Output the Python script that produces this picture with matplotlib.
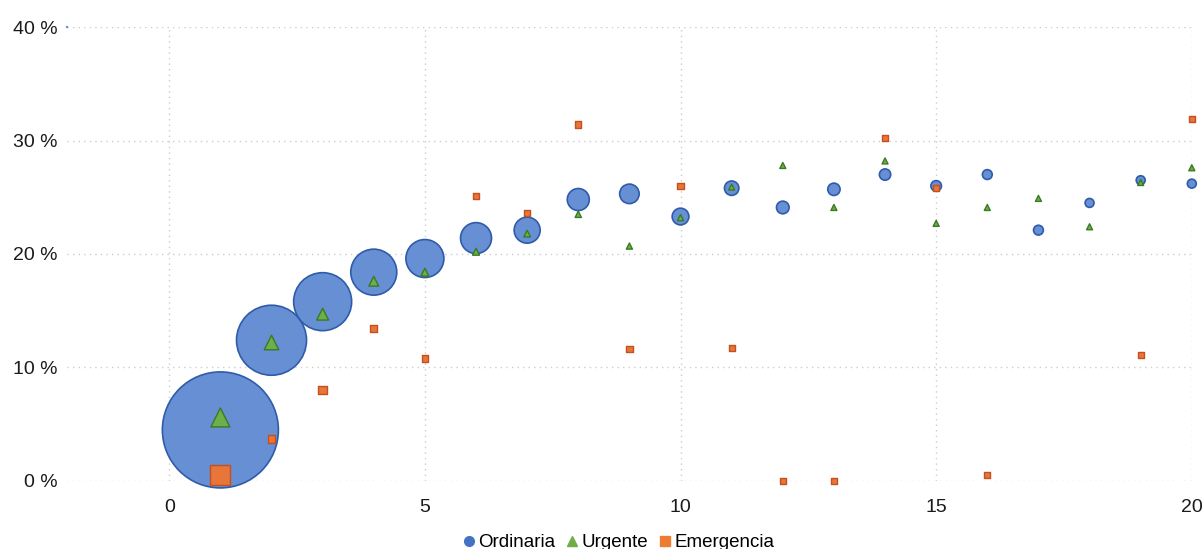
import matplotlib.pyplot as plt
import numpy as np
from matplotlib.lines import Line2D
from matplotlib.ticker import FuncFormatter, MultipleLocator

plt.rcParams['font.family'] = ['Liberation Sans', 'DejaVu Sans']

# data
x = np.arange(1, 21)
ordinaria = [4.5, 12.4, 15.8, 18.4, 19.6, 21.4, 22.1, 24.8, 25.3, 23.3,
             25.8, 24.1, 25.7, 27.0, 26.0, 27.0, 22.1, 24.5, 26.5, 26.2]
urgente = [5.6, 12.2, 14.7, 17.6, 18.4, 20.2, 21.8, 23.5, 20.7, 23.2,
           25.9, 27.8, 24.1, 28.2, 22.7, 24.1, 24.9, 22.4, 26.3, 27.6]
emergencia = [0.5, 3.7, 8.0, 13.4, 10.8, 25.1, 23.6, 31.4, 11.6, 26.0,
              11.7, 0.0, 0.0, 30.2, 25.8, 0.5, np.nan, np.nan, 11.1, 31.9]

# bubble sizes (relative)
n_ordinaria = [3364, 1225, 841, 529, 361, 240, 169, 121, 95, 70,
               52, 40, 38, 32, 28, 24, 24, 20, 20, 20]
n_urgente = [361, 210, 140, 95, 62, 48, 44, 40, 38, 38,
             36, 36, 36, 36, 36, 36, 36, 36, 36, 36]
n_emergencia = [400, 60, 70, 50, 45, 40, 40, 40, 40, 40,
                40, 40, 40, 40, 40, 40, 40, 40, 40, 40]

# anchor point in the top-left corner
anchor_x = [-2]
anchor_y = [40]

px = 0.72  # points per pixel at dpi 100
s_ord = [(2 * np.sqrt(n) * px) ** 2 for n in n_ordinaria]
s_urg = [(np.sqrt(n) * px) ** 2 for n in n_urgente]
s_eme = [(np.sqrt(n) * px) ** 2 for n in n_emergencia]

fig = plt.figure(figsize=(12.03, 5.49), dpi=100)
ax = fig.add_axes([0.0557, 0.1239, 0.935, 0.8269])

blue, blue_edge = '#6690D3', '#2F5BAA'
green, green_edge = '#6DAF4A', '#3B7A22'
orange, orange_edge = '#E8753A', '#C4501E'

ax.scatter(x, ordinaria, s=s_ord, c=blue, edgecolors=blue_edge, linewidths=1.2,
           zorder=3, clip_on=False)
ax.scatter(anchor_x, anchor_y, s=3, c=blue, edgecolors='none', zorder=3, clip_on=False)
ax.scatter(x, urgente, s=s_urg, c=green, marker='^', edgecolors=green_edge,
           linewidths=1.0, zorder=4, clip_on=False)
ax.scatter(x, emergencia, s=s_eme, c=orange, marker='s', edgecolors=orange_edge,
           linewidths=1.0, zorder=5, clip_on=False)

ax.set_xlim(-2, 20)
ax.set_ylim(0, 40)
ax.set_xticks([0, 5, 10, 15, 20])
ax.yaxis.set_major_locator(MultipleLocator(10))
ax.yaxis.set_major_formatter(FuncFormatter(lambda v, p: f"{int(v)} %"))
ax.grid(True, color='#cccccc', linestyle=(0, (1, 3)), linewidth=1.0)
ax.set_axisbelow(True)
for sp in ax.spines.values():
    sp.set_visible(False)
ax.tick_params(length=0, labelsize=14, colors='#1a1a1a', pad=7)
ax.tick_params(axis='x', pad=13)

handles = [
    Line2D([], [], marker='o', linestyle='none', color='#4472C4', markersize=7),
    Line2D([], [], marker='^', linestyle='none', color='#70AD47', markersize=7),
    Line2D([], [], marker='s', linestyle='none', color='#ED7D31', markersize=7),
]
fig.legend(handles, ['Ordinaria', 'Urgente', 'Emergencia'], loc='lower center',
           bbox_to_anchor=(0.513, -0.035), ncol=3, frameon=False, fontsize=13.5,
           handletextpad=0.0, columnspacing=0.4, handlelength=1.0)

fig.savefig('out.png', dpi=100)
